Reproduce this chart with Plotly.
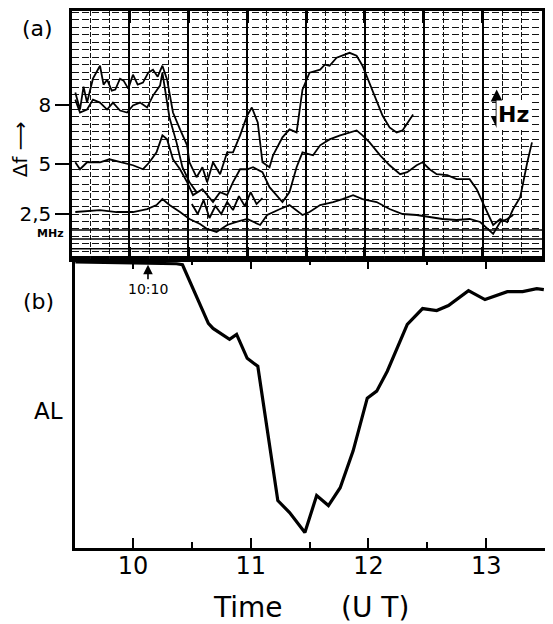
import plotly.graph_objects as go

# ---------------- data ----------------
# Panel (a): spectral contour lines, time (UT hours) vs frequency (MHz)
top_t = [9.51, 9.55, 9.58, 9.61, 9.66, 9.72, 9.75, 9.78, 9.82, 9.85,
         9.89, 9.92, 9.96, 10.0, 10.04, 10.085, 10.13, 10.17, 10.21, 10.25,
         10.29, 10.34, 10.40, 10.46, 10.48, 10.54, 10.59, 10.63, 10.68, 10.74,
         10.80, 10.85, 10.91, 10.97, 11.01, 11.06, 11.10, 11.16, 11.19, 11.27,
         11.33, 11.39, 11.44, 11.50, 11.59, 11.63, 11.67, 11.73, 11.84, 11.90,
         11.95, 12.01, 12.07, 12.12, 12.18, 12.24, 12.29, 12.35, 12.38]
top_f = [8.6, 7.75, 8.9, 8.1, 9.3, 9.95, 9.0, 9.25, 8.7, 8.75,
         9.3, 9.2, 8.8, 9.5, 9.0, 9.1, 9.6, 9.75, 9.4, 9.95,
         9.25, 7.6, 6.75, 5.95, 5.1, 4.35, 4.85, 4.1, 5.1, 4.5,
         5.6, 5.6, 6.45, 7.45, 7.85, 7.1, 5.1, 4.85, 5.45, 6.35,
         6.75, 6.6, 8.75, 9.6, 9.75, 10.0, 9.95, 10.35, 10.6, 10.45,
         9.95, 9.1, 8.25, 7.45, 6.85, 6.6, 6.7, 7.25, 7.5]

sec_t = [9.51, 9.55, 9.61, 9.66, 9.72, 9.78, 9.83, 9.89, 9.95, 10.0,
         10.06, 10.12, 10.17, 10.23, 10.25, 10.31, 10.37, 10.42, 10.48, 10.54]
sec_f = [8.25, 7.6, 7.75, 8.25, 8.1, 7.75, 8.1, 7.7, 7.6, 7.95,
         8.1, 7.85, 8.45, 8.95, 9.6, 7.35, 6.1, 4.85, 4.1, 3.6]

mid_t = [9.51, 9.55, 9.61, 9.72, 9.80, 9.89, 10.0, 10.085, 10.14, 10.20,
         10.25, 10.29, 10.34, 10.40, 10.46, 10.51, 10.59, 10.68, 10.74, 10.80,
         10.85, 10.91, 10.97, 11.02, 11.10, 11.16, 11.27, 11.33, 11.39, 11.44,
         11.53, 11.59, 11.67, 11.76, 11.84, 11.90, 11.95, 12.01, 12.10, 12.18,
         12.27, 12.33, 12.41, 12.46, 12.52, 12.58, 12.67, 12.75, 12.86, 12.92,
         12.97, 13.02, 13.06, 13.12, 13.18, 13.23, 13.29, 13.35, 13.39]
mid_f = [5.1, 4.75, 5.1, 5.1, 5.25, 5.1, 4.95, 4.75, 5.1, 5.6,
         6.45, 6.25, 5.25, 4.75, 4.1, 3.45, 3.75, 3.1, 3.6, 3.45,
         4.1, 4.75, 4.75, 4.85, 4.6, 3.85, 3.1, 3.6, 4.85, 5.6,
         5.45, 5.95, 6.25, 6.45, 6.6, 6.7, 6.45, 6.1, 5.45, 4.95,
         4.5, 4.6, 4.95, 5.1, 4.75, 4.5, 4.45, 4.25, 4.25, 3.75,
         3.1, 2.45, 1.95, 2.25, 2.1, 2.75, 3.35, 5.1, 6.1]

low_t = [9.51, 9.72, 9.86, 10.0, 10.12, 10.20, 10.25, 10.31, 10.40, 10.48,
         10.57, 10.63, 10.71, 10.80, 10.88, 10.97, 11.08, 11.14, 11.25, 11.33,
         11.44, 11.50, 11.59, 11.70, 11.78, 11.87, 11.95, 12.07, 12.18, 12.29,
         12.41, 12.52, 12.63, 12.75, 12.86, 12.95, 13.01, 13.06, 13.12, 13.18,
         13.23]
low_f = [2.6, 2.7, 2.6, 2.6, 2.75, 2.95, 3.25, 2.95, 2.6, 2.25,
         2.0, 1.75, 1.6, 1.95, 2.1, 2.25, 1.95, 2.45, 2.75, 2.95,
         2.45, 2.6, 2.95, 3.1, 3.25, 3.45, 3.25, 3.1, 2.75, 2.5,
         2.45, 2.35, 2.25, 2.2, 2.25, 2.1, 1.75, 1.5, 2.1, 2.25,
         2.45]

noise_t = [10.50, 10.55, 10.60, 10.65, 10.70, 10.75, 10.80, 10.85, 10.90, 10.95, 11.0, 11.05, 11.10]
noise_f = [3.0, 2.5, 3.2, 2.3, 2.9, 2.5, 3.1, 2.7, 3.4, 2.9, 3.6, 3.0, 3.3]

freq_ticks = [2.5, 5, 8]
freq_ticktext = ["2,5", "5", "8"]

# Panel (b): AL index (arbitrary nT scale)
al_t = [9.51, 9.90, 10.37, 10.42, 10.64, 10.68, 10.82, 10.88, 10.97, 11.06,
        11.23, 11.33, 11.46, 11.56, 11.66, 11.76, 11.87, 11.99, 12.07, 12.16,
        12.33, 12.46, 12.58, 12.68, 12.85, 12.99, 13.18, 13.31, 13.43, 13.49]
al_v = [0, -4, -8, -12, -248, -268, -312, -292, -388, -420,
        -960, -1008, -1088, -940, -980, -908, -760, -548, -520, -440,
        -252, -188, -196, -176, -116, -152, -120, -120, -108, -112]

hour_ticks = [10, 11, 12, 13]
hour_labels = ["10", "11", "12", "13"]

# ---------------- figure ----------------
PAGE_W, PAGE_H = 553, 624
OFF = 8                      # default body margin of the page
W, H = PAGE_W - OFF, PAGE_H - OFF
FONT = "DejaVu Sans"
fig = go.Figure()

line_a = dict(color="black", width=1.8)
for tx, fy in [(top_t, top_f), (sec_t, sec_f), (mid_t, mid_f), (low_t, low_f), (noise_t, noise_f)]:
    fig.add_trace(go.Scatter(x=tx, y=fy, mode="lines", line=line_a,
                             xaxis="x2", yaxis="y2", hoverinfo="skip", showlegend=False))

fig.add_trace(go.Scatter(x=al_t, y=al_v, mode="lines",
                         line=dict(color="black", width=3.2),
                         xaxis="x", yaxis="y", hoverinfo="skip", showlegend=False))


def px(x):
    return (x - OFF) / W


def py(y):
    return 1 - (y - OFF) / H


# fine recorder-paper verticals (every 10 min)
fine_grid = [9.47 + k / 6 for k in range(25)]

fig.update_layout(
    width=W, height=H,
    margin=dict(l=0, r=0, t=0, b=0),
    paper_bgcolor="white", plot_bgcolor="white",
    font=dict(family=FONT, color="black"),
    showlegend=False,
    # panel (b)
    xaxis=dict(domain=[px(75), px(545)], range=[9.507, 13.5],
               showline=True, linecolor="black", linewidth=3, mirror="ticks",
               ticks="inside", ticklen=10, tickwidth=2, tickcolor="black",
               tickvals=hour_ticks, ticktext=hour_labels,
               tickfont=dict(size=24, family=FONT), ticklabelstandoff=-6,
               minor=dict(ticks="inside", ticklen=6, tickwidth=2, tickcolor="black",
                          tickmode="linear", tick0=9.5, dtick=0.5, showgrid=False),
               showgrid=False, zeroline=False, fixedrange=True),
    yaxis=dict(domain=[py(548), py(257)], range=[-1152, 12],
               showline=True, linecolor="black", linewidth=3, mirror=True,
               ticks="", showticklabels=False, showgrid=False, zeroline=False),
    # panel (a)
    xaxis2=dict(domain=[px(72), px(542)], range=[9.482, 13.475], anchor="y2",
                showline=True, linecolor="black", linewidth=2.5, mirror="ticks",
                ticks="inside", ticklen=12, tickwidth=3, tickcolor="black",
                tickmode="linear", tick0=9.47, dtick=0.5, showticklabels=False,
                showgrid=True, gridcolor="#000", gridwidth=1.5,
                minor=dict(tickmode="array", tickvals=fine_grid, showgrid=True,
                           gridcolor="#111", gridwidth=1.2, griddash="5px,2px", ticks=""),
                zeroline=False),
    yaxis2=dict(domain=[py(257), py(8)], range=[0.25, 12.7], anchor="x2",
                showline=True, linecolor="black", linewidth=2.5, mirror=True,
                ticks="outside", ticklen=14, tickwidth=2, tickcolor="black",
                tickvals=freq_ticks, ticktext=freq_ticktext,
                tickfont=dict(size=20, family=FONT),
                showgrid=False, zeroline=False,
                minor=dict(tickmode="linear", tick0=0.25, dtick=0.375, showgrid=True,
                           gridcolor="#111", gridwidth=1.3, griddash="7px,3px", ticks="")),
)

# bottom time-strip of the record (solid rows)
for fval in [0.75, 1.25, 1.7]:
    fig.add_shape(type="line", xref="x2 domain", yref="y2", x0=0, x1=1, y0=fval, y1=fval,
                  line=dict(color="black", width=1.5))


def label(text, x, y, size, angle=0):
    return dict(text=text, x=px(x), y=py(y), xref="paper", yref="paper",
                xanchor="center", yanchor="middle", textangle=angle,
                showarrow=False, font=dict(size=size, family=FONT))


ann = [
    label("(a)", 37, 26, 22),
    label("(b)", 38, 300, 22),
    label("AL", 48, 410, 23),
    label("Δf ⟶", 20, 147, 20, -90),
    label("<b>MHz</b>", 50, 232, 11),
    label("Time", 248, 607, 28),
    label("(U T)", 375, 607, 28),
]
# 10:10 marker
ann.append(dict(text="10:10", x=10.127, y=-12, xref="x", yref="y",
                showarrow=True, ax=0, ay=24, arrowhead=2, arrowsize=1.2, arrowwidth=1.6,
                arrowcolor="black", font=dict(size=14, family=FONT)))
# Hz scale marker in panel (a)
ann.append(dict(text="", x=13.09, y=8.75, ax=13.09, ay=6.75, xref="x2", yref="y2",
                axref="x2", ayref="y2", showarrow=True, arrowhead=2, arrowside="end+start",
                arrowsize=1.2, arrowwidth=2, arrowcolor="black"))
ann.append(dict(text="<b>Hz</b>", x=13.23, y=7.5, xref="x2", yref="y2", showarrow=False,
                font=dict(size=22, family=FONT), bgcolor="white"))
fig.update_layout(annotations=ann)

fig.write_html("out.html")
